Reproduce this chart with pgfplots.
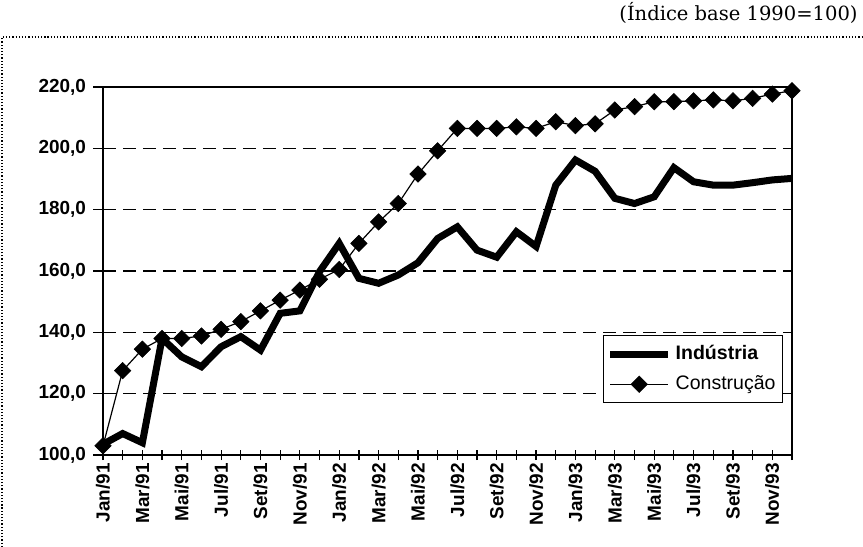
\documentclass[border=0pt]{standalone}
\usepackage{fontspec}
\setmainfont{Liberation Sans}
\newfontfamily\titlefont{DejaVu Serif}
\usepackage{pgfplots}
\pgfplotsset{compat=1.18}

% monthly index, Jan/91 = 0 ... Dec/93 = 35
\pgfplotstableread{
m   ind     con
0   103.5   103.0
1   107.0   127.5
2   104.0   134.5
3   138.0   138.0
4   132.0   138.0
5   128.8   138.8
6   135.3   141.0
7   138.6   143.5
8   134.2   147.0
9   146.2   150.5
10  147.0   153.8
11  159.8   157.3
12  169.0   160.5
13  157.6   169.0
14  156.0   176.0
15  158.7   182.0
16  162.7   191.6
17  170.6   199.2
18  174.4   206.5
19  166.8   206.5
20  164.5   206.5
21  172.8   207.0
22  168.0   206.5
23  188.0   208.7
24  196.2   207.4
25  192.5   208.0
26  183.7   212.5
27  182.0   213.6
28  184.2   215.2
29  193.7   215.2
30  189.1   215.5
31  188.0   215.8
32  188.0   215.5
33  188.8   216.3
34  189.7   217.7
35  190.2   218.8
}\dados

\begin{document}
\begin{tikzpicture}
\useasboundingbox (0,0) rectangle (431.5bp,-273.5bp);
% dotted frame of the panel
\draw[densely dotted, line width=0.6bp] (1bp,-273.5bp) -- (1bp,-18.5bp) -- (431.5bp,-18.5bp);
\node[anchor=east, inner sep=0pt, font=\titlefont\fontsize{9.8}{11}\selectfont] at (429bp,-6.5bp) {(Índice base 1990=100)};

\begin{axis}[
  at={(51.5bp,-227.5bp)}, anchor=south west,
  width=344.5bp, height=184bp, scale only axis,
  xmin=0, xmax=35, ymin=100, ymax=220,
  clip=false,
  axis line style={line width=0.8bp},
  xtick={0,...,35},
  xticklabels={Jan/91,,Mar/91,,Mai/91,,Jul/91,,Set/91,,Nov/91,,Jan/92,,Mar/92,,Mai/92,,Jul/92,,Set/92,,Nov/92,,Jan/93,,Mar/93,,Mai/93,,Jul/93,,Set/93,,Nov/93,},
  xtick pos=bottom, xtick align=center,
  x tick label style={rotate=90, anchor=east, inner sep=1.5bp},
  ytick={100,120,...,220},
  ytick pos=left, ytick align=outside,
  major tick length=5bp,
  tick style={black, line width=0.6bp},
  tick label style={font=\bfseries\fontsize{9.5}{11}\selectfont},
  /pgf/number format/.cd, fixed, fixed zerofill, precision=1, use comma, 1000 sep={}, assume math mode=true,
  /pgfplots/.cd,
  ymajorgrids,
  grid style={black, line width=0.6bp, dash pattern=on 6.5bp off 3.5bp},
  legend style={at={(0.726,0.326)}, anchor=north west, draw=black, line width=0.5bp,
    font=\fontsize{9.8}{11}\selectfont, legend cell align=left,
    inner xsep=1.5bp, inner ysep=3bp, row sep=2.5bp,
    /tikz/every odd column/.append style={column sep=0pt}},
  legend image code/.code={\draw[mark repeat=2, mark phase=2, #1] plot coordinates {(0bp,0bp) (14.5bp,0bp) (29bp,0bp)};},
]
\addplot[black, line width=3.5bp, no marks] table[x=m, y=ind] {\dados};
\addlegendentry{\bfseries Indústria}
\addplot[black, line width=0.6bp, mark=square*, mark size=2.9bp,
  mark options={rotate=45, solid, line width=0.3bp}] table[x=m, y=con] {\dados};
\addlegendentry{Construção}
\end{axis}
\end{tikzpicture}
\end{document}
